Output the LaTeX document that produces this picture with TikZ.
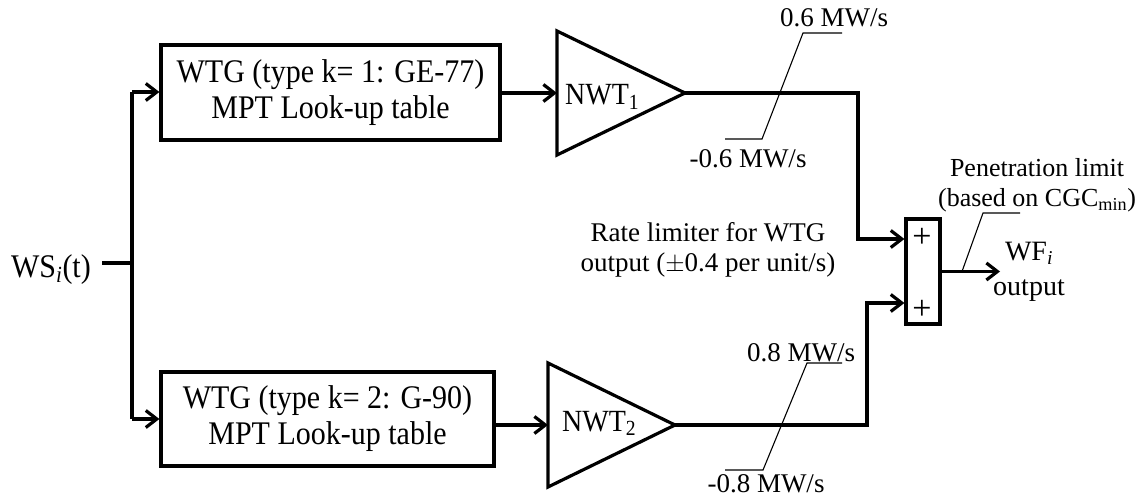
\documentclass[tikz,border=0pt]{standalone}
\usepackage{fontspec}
\setmainfont{Liberation Serif}
\usetikzlibrary{arrows.meta}
\newcommand{\st}[1]{\scalebox{1}[1.1]{#1}}
\lineskiplimit=-60pt
\begin{document}
\begin{tikzpicture}[x=1pt,y=-1pt,
  wire/.style={line width=3.2pt},
  arr/.style={wire,-{Straight Barb[length=11pt,width=17pt]}},
  thin/.style={line width=1.1pt},
  blk/.style={draw,line width=3.2pt,align=center,inner sep=0pt,font=\fontsize{30}{36}\selectfont},
  lbl/.style={inner sep=0pt,font=\fontsize{27}{30}\selectfont},
  mid/.style={inner sep=0pt,align=center,font=\fontsize{28}{34}\selectfont}
]
\useasboundingbox (0,0) rectangle (1145,497);

% input
\node[mid,anchor=base,font=\fontsize{30}{34}\selectfont] (ws) at (51,277) {\st{WS\textsubscript{\textit{i}}(t)}};
\coordinate (j) at (132,263);
\coordinate (jt) at (132,92);
\coordinate (jb) at (132,419);

% boxes
\node[blk,minimum width=339pt,minimum height=95pt] (b1) at (330.5,92.5)
  {\st{WTG (type k= 1: GE-77)}\\\st{MPT Look-up table}};
\node[blk,minimum width=333pt,minimum height=94pt] (b2) at (327.5,419)
  {\st{WTG (type k= 2: G-90)}\\\st{MPT Look-up table}};

\draw[wire] (ws.east |- j) ++(11,0) -- (j);
\draw[wire] (jt) -- (jb);
\draw[arr] (jt) -- (b1.west |- jt);
\draw[arr] (jb) -- (b2.west |- jb);

% gains
\coordinate (t1a) at (557,31);
\coordinate (t1b) at (557,155);
\coordinate (t1in) at (557,93);
\coordinate (t1tip) at (685,93);
\draw[wire,line join=miter] (t1a) -- (t1tip) -- (t1b) -- cycle;
\node[mid,anchor=base west] (n1) at (565,105) {\st{NWT\textsubscript{1}}};

\coordinate (t2a) at (548,363);
\coordinate (t2b) at (548,487);
\coordinate (t2in) at (548,425);
\coordinate (t2tip) at (675,425);
\draw[wire,line join=miter] (t2a) -- (t2tip) -- (t2b) -- cycle;
\node[mid,anchor=base west] (n2) at (562,431) {\st{NWT\textsubscript{2}}};

\draw[arr] (b1.east |- t1in) -- (t1in);
\draw[arr] (b2.east |- t2in) -- (t2in);

% summing block
\node[draw,line width=3.2pt,minimum width=34pt,minimum height=105pt,inner sep=0pt] (sum) at (923,271.5) {};
\node[inner sep=0pt,font=\fontsize{34}{34}\selectfont] (p1) at (922,238) {+};
\node[inner sep=0pt,font=\fontsize{34}{34}\selectfont] (p2) at (922,310) {+};

\coordinate (k1) at (858,239);
\coordinate (k2) at (867,303);
\draw[arr] (t1tip) -| (k1) -- (sum.west |- k1);
\draw[arr] (t2tip) -| (k2) -- (sum.west |- k2);

\coordinate (out) at (1000,271.5);
\draw[arr] (sum.east) -- (out);
\node[mid,anchor=base,font=\fontsize{28}{35}\selectfont] (wf) at (1029,295)
  {WF\textsubscript{\textit{i}}\\output};

% rate limiter labels
\node[lbl,anchor=base] (u1) at (834,27) {0.6 MW/s};
\node[lbl,anchor=base] (l1) at (748,168) {-0.6 MW/s};
\coordinate (r1a) at (725,139);
\coordinate (r1b) at (762,139);
\coordinate (r1c) at (803,33);
\coordinate (r1d) at (842,33);
\draw[thin] (r1a) -- (r1b) -- (r1c) -- (r1d);

\node[lbl,anchor=base] (u2) at (801,361) {0.8 MW/s};
\node[lbl,anchor=base] (l2) at (766,492) {-0.8 MW/s};
\coordinate (r2a) at (725,470);
\coordinate (r2b) at (763,470);
\coordinate (r2c) at (807,363);
\coordinate (r2d) at (842,363);
\draw[thin] (r2a) -- (r2b) -- (r2c) -- (r2d);

\node[lbl,anchor=base,align=center,font=\fontsize{27}{30}\selectfont] (rl) at (708,271)
  {Rate limiter for WTG\\output ($\pm$0.4 per unit/s)};

% penetration limit
\node[lbl,anchor=base,align=center,font=\fontsize{26}{30}\selectfont] (pen) at (1037,207)
  {Penetration limit\\(based on CGC\textsubscript{min})};
\coordinate (pl0) at (962,271.5);
\coordinate (pl1) at (983,213);
\coordinate (pl2) at (1020,213);
\draw[thin] (pl0) -- (pl1) -- (pl2);
\end{tikzpicture}
\end{document}
